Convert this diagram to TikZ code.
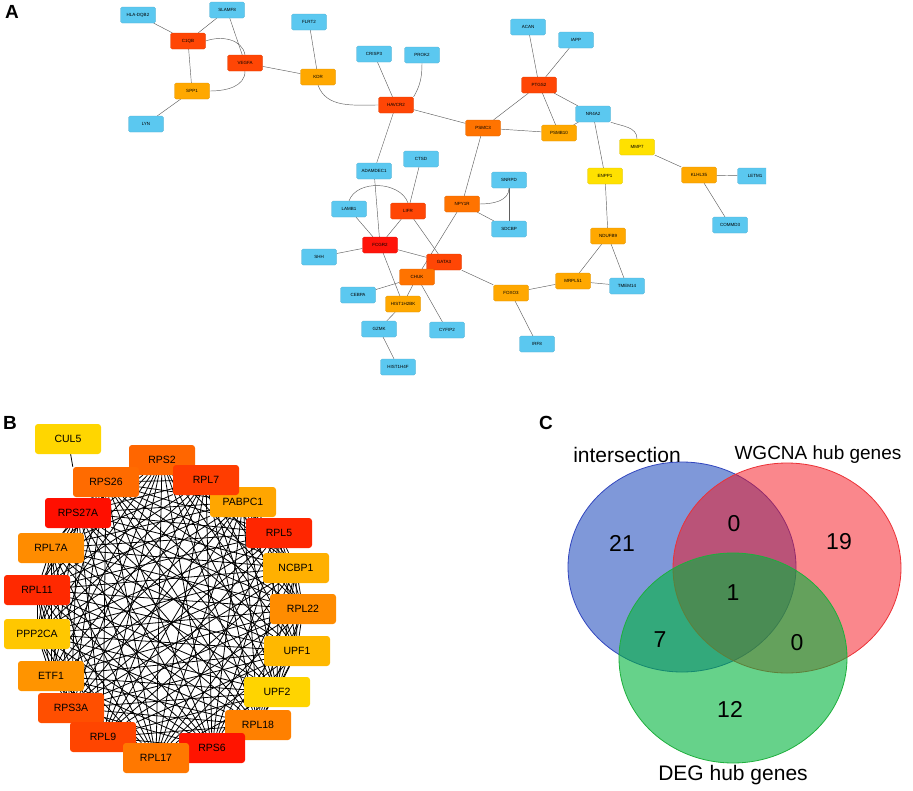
\documentclass[tikz,border=0pt]{standalone}
\usepackage{fontspec}
\setmainfont{Liberation Sans}
\usetikzlibrary{backgrounds}

\definecolor{genecyan}{RGB}{91,200,240}
\definecolor{genered}{RGB}{255,20,10}
\definecolor{geneorangered}{RGB}{255,70,5}
\definecolor{genedarkorange}{RGB}{255,115,0}
\definecolor{geneorange}{RGB}{255,168,0}
\definecolor{geneyellow}{RGB}{255,225,0}
\definecolor{vennblue}{RGB}{0,50,180}
\definecolor{vennred}{RGB}{245,15,25}
\definecolor{venngreen}{RGB}{0,180,60}

\tikzset{
  gene/.style={rectangle, rounded corners=1.5pt, minimum width=35pt, minimum height=16pt, inner sep=0pt, font=\fontsize{4.5}{5}\selectfont},
  hub/.style={rectangle, rounded corners=3pt, minimum width=66pt, minimum height=30pt, inner sep=0pt, font=\fontsize{10.5}{12}\selectfont},
  link/.style={draw=gray!75!black, line width=0.45pt},
  mesh/.style={draw=black, line width=0.8pt},
  panel/.style={font=\fontsize{19}{20}\selectfont\bfseries},
  venn/.style={font=\fontsize{21}{22}\selectfont},
}

\def\hubring{RPS2,RPL7,PABPC1,RPL5,NCBP1,RPL22,UPF1,UPF2,RPL18,RPS6,RPL17,RPL9,RPS3A,ETF1,PPP2CA,RPL11,RPL7A,RPS27A,RPS26}

\begin{document}
\begin{tikzpicture}[x=1pt,y=-1pt]
\useasboundingbox (0,0) rectangle (913,790);
\node[panel] (labA) at (12,12) {A};
\node[panel] (labB) at (10,423) {B};
\node[panel] (labC) at (546,423) {C};

\begin{scope}
\clip (0,0) rectangle (766,400);
\foreach \n/\x/\y/\c/\t in {hla/138/15/genecyan/HLA-DQB2, slamf/227/10/genecyan/SLAMF8, c1qb/188/41/geneorangered/C1QB, vegfa/245/63/geneorangered/VEGFA, spp1/192/91/geneorange/SPP1, lyn/146/124/genecyan/LYN, flrt/309/22/genecyan/FLRT2, kdr/318/77/geneorange/KDR, crisp/374/54/genecyan/CRISP3, prok/422/55/genecyan/PROK2, havcr/396/105/geneorangered/HAVCR2, acan/528/27/genecyan/ACAN, iapp/576/40/genecyan/IAPP, ptgs/539/85/geneorangered/PTGS2, nr/593/114/genecyan/NR4A2, psmc/483/128/genedarkorange/PSMC3, psmb/559/133/geneorange/PSMB10, mmp/637/147/geneyellow/MMP7, enpp/605/176/geneyellow/ENPP1, klhl/699/175/geneorange/KLHL35, letm/755/176/genecyan/LETM1, commd/730/225/genecyan/COMMD3, adam/374/171/genecyan/ADAMDEC1, ctsd/421/159/genecyan/CTSD, snrpd/509/180/genecyan/SNRPD, npy/462/204/genedarkorange/NPY1R, sdcbp/509/229/genecyan/SDCBP, lamb/349/209/genecyan/LAMB1, lifr/408/211/geneorangered/LIFR, fcgr/380/245/genered/FCGR2, shh/319/257/genecyan/SHH, gata/444/262/geneorangered/GATA3, chuk/417/277/genedarkorange/CHUK, cebpa/358/295/genecyan/CEBPA, hist/403/304/geneorange/HIST1H2BK, gzmk/379/329/genecyan/GZMK, cyfip/447/330/genecyan/CYFIP2, histf/398/367/genecyan/HIST1H4F, foxo/511/293/geneorange/FOXO3, irf/537/344/genecyan/IRF8, ndufb/608/236/geneorange/NDUFB9, mrpl/573/281/geneorange/MRPL51, tmem/627/286/genecyan/TMEM14}
  \node[gene, fill=\c, draw=\c!85!black, line width=0.3pt] (\n) at (\x,\y) {\t};
\end{scope}

\begin{scope}[on background layer]
\foreach \a/\b in {hla/c1qb, slamf/c1qb, slamf/vegfa, c1qb/spp1, spp1/lyn, vegfa/kdr, flrt/kdr, crisp/havcr, havcr/psmc, havcr/adam, adam/fcgr, acan/ptgs, iapp/ptgs, ptgs/psmc, ptgs/psmb, ptgs/nr, psmc/psmb, psmb/nr, psmc/npy, npy/chuk, nr/enpp, mmp/klhl, klhl/letm, klhl/commd, enpp/ndufb, ndufb/mrpl, ndufb/tmem, mrpl/tmem, mrpl/foxo, foxo/gata, foxo/irf, ctsd/lifr, lamb/fcgr, lifr/fcgr, lifr/gata, fcgr/shh, fcgr/gata, fcgr/hist, npy/sdcbp, snrpd/sdcbp, gata/chuk, chuk/cebpa, chuk/hist, chuk/cyfip, hist/gzmk, gzmk/histf}
  \draw[link] (\a) -- (\b);
\draw[link] (c1qb.east) to[out=20,in=100] (vegfa.north);
\draw[link] (spp1.east) to[out=0,in=-90] (vegfa.south);
\draw[link] (kdr.south) to[out=-70,in=180] (havcr.west);
\draw[link] (prok.south) to[out=-90,in=60] (havcr.north east);
\draw[link] (nr.south east) to[out=-20,in=90] (mmp.north);
\draw[link] (lamb.north) to[out=70,in=110] (lifr.north);
\draw[link] (npy.east) to[out=0,in=-90] (snrpd.south);
\end{scope}

\foreach \n/\x/\y/\g in {CUL5/68/439/16, RPS2/162/460/60, RPS26/106/482/58, PABPC1/243/502/35, RPL7/206/480/76, RPS27A/78/513/94, RPL5/279/533/85, RPL7A/51/548/45, NCBP1/296/568/31, RPL11/37/590/84, RPL22/303/609/45, PPP2CA/37/634/22, UPF1/297/651/28, ETF1/51/676/42, UPF2/277/692/17, RPS3A/71/708/69, RPL18/258/725/50, RPS6/212/748/92, RPL9/103/737/73, RPL17/156/758/53}
  \node[hub, fill=red!\g!yellow] (\n) at (\x,\y) {\n};

\begin{scope}[on background layer]
\foreach \a [count=\i] in \hubring {
  \foreach \b [count=\j] in \hubring {
    \ifnum\i<\j \draw[mesh] (\a) -- (\b); \fi
  }
}
\draw[mesh] (CUL5) -- (RPS26.north west);
\end{scope}

\filldraw[fill=vennblue, fill opacity=.5, draw={rgb,255:red,50;green,70;blue,190}, line width=.8pt] (682,567) ellipse [x radius=114pt, y radius=105pt];
\filldraw[fill=vennred, fill opacity=.5, draw={rgb,255:red,235;green,50;blue,55}, line width=.8pt] (787,568) ellipse [x radius=114pt, y radius=105pt];
\filldraw[fill=venngreen, fill opacity=.6, draw={rgb,255:red,30;green,175;blue,60}, line width=.8pt] (733,658) ellipse [x radius=114pt, y radius=105pt];
\node[venn] (setA) at (627,455) {intersection};
\node[venn, anchor=west, font=\fontsize{19}{20}\selectfont] (setB) at (731,455) {WGCNA hub genes};
\node[venn] (setC) at (733,775) {DEG hub genes};
\foreach \v/\x/\y in {21/622/543, 0/734/524, 19/839/542, 1/733/593, 7/660/640, 0/797/643, 12/730/709}
  \node[font=\fontsize{23}{24}\selectfont] at (\x,\y) {\v};
\end{tikzpicture}
\end{document}
